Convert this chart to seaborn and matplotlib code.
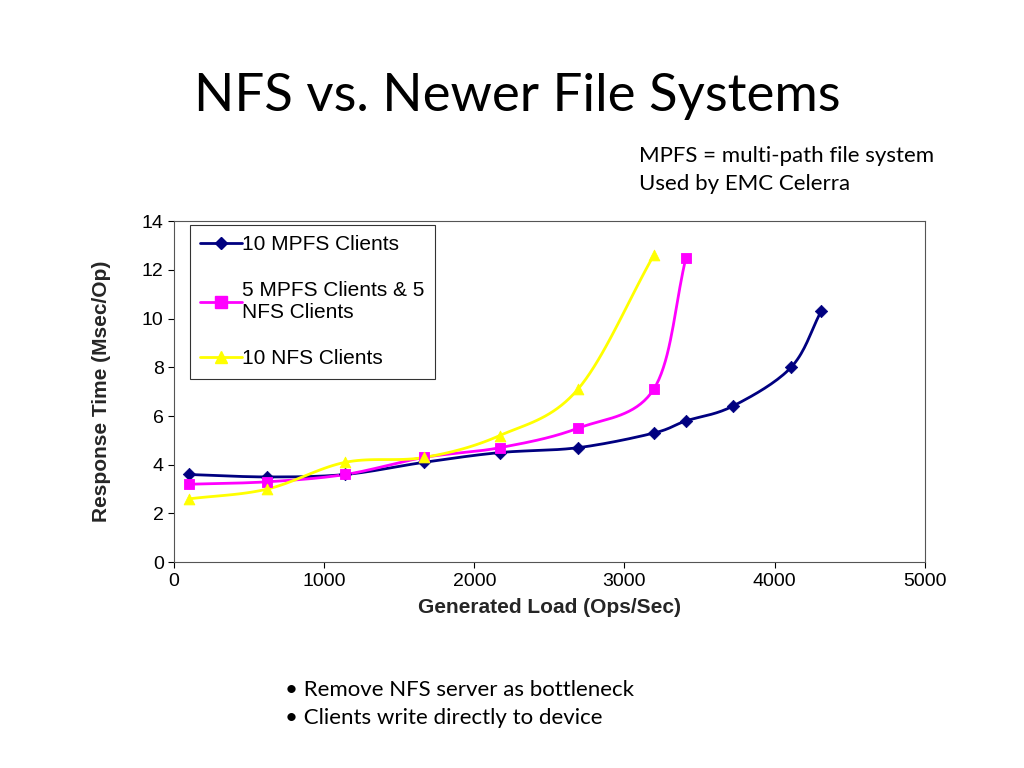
import numpy as np
import pandas as pd
import seaborn as sns
import matplotlib.pyplot as plt
from matplotlib.lines import Line2D

# data
mpfs10_x = [100, 620, 1140, 1665, 2170, 2690, 3195, 3410, 3720, 4110, 4310]
mpfs10_y = [3.6, 3.5, 3.6, 4.1, 4.5, 4.7, 5.3, 5.8, 6.4, 8.0, 10.3]
mixed_x = [100, 620, 1140, 1665, 2170, 2690, 3195, 3410]
mixed_y = [3.2, 3.3, 3.6, 4.3, 4.7, 5.5, 7.1, 12.5]
nfs10_x = [100, 620, 1140, 1665, 2170, 2690, 3195]
nfs10_y = [2.6, 3.0, 4.1, 4.3, 5.2, 7.1, 12.6]

labels = ["10 MPFS Clients", "5 MPFS Clients & 5\nNFS Clients", "10 NFS Clients"]
colors = ["#000080", "#FF00FF", "#FFFF00"]
markers = ["D", "s", "^"]


def smooth(x, y, n=20):
    # Catmull-Rom curve through the points (like Excel smoothed lines)
    x = np.asarray(x, float)
    y = np.asarray(y, float)
    px = np.concatenate([[2 * x[0] - x[1]], x, [2 * x[-1] - x[-2]]])
    py = np.concatenate([[2 * y[0] - y[1]], y, [2 * y[-1] - y[-2]]])
    t = np.linspace(0, 1, n)[:, None]
    xs, ys = [], []
    for i in range(1, len(px) - 2):
        for p, out in ((px, xs), (py, ys)):
            p0, p1, p2, p3 = p[i - 1], p[i], p[i + 1], p[i + 2]
            out.append(0.5 * (2 * p1 + (-p0 + p2) * t + (2 * p0 - 5 * p1 + 4 * p2 - p3) * t ** 2
                              + (-p0 + 3 * p1 - 3 * p2 + p3) * t ** 3).ravel())
    return np.concatenate(xs), np.concatenate(ys)


sns.set_style("white")
plt.rcParams["font.family"] = "Liberation Sans"
fig = plt.figure(figsize=(10.24, 7.68), dpi=100)
ax = fig.add_axes([0.17, 0.268, 0.733, 0.444])

series = [(mpfs10_x, mpfs10_y), (mixed_x, mixed_y), (nfs10_x, nfs10_y)]
handles = []
for (x, y), lab, c, m in zip(series, labels, colors, markers):
    sx, sy = smooth(x, y)
    ax.plot(sx, sy, color=c, lw=2, zorder=2)
    df = pd.DataFrame({"x": x, "y": y})
    sns.scatterplot(data=df, x="x", y="y", ax=ax, color=c, marker=m, s=60 if m != "D" else 40,
                    edgecolor=c, zorder=3, legend=False)
    handles.append(Line2D([], [], color=c, lw=2, marker=m, markersize=8 if m != "D" else 6))

ax.set_xlim(0, 5000)
ax.set_ylim(0, 14)
ax.set_xticks(range(0, 5001, 1000))
ax.set_yticks(range(0, 15, 2))
ax.tick_params(labelsize=14, length=4, direction="out", left=True, bottom=True, colors="black")
ax.set_xlabel("Generated Load (Ops/Sec)", fontsize=15, fontweight="bold", labelpad=6)
ax.set_ylabel("Response Time (Msec/Op)", fontsize=15, fontweight="bold", labelpad=22)
for s in ax.spines.values():
    s.set_color("#555555")

leg = ax.legend(handles, labels, loc="upper left", bbox_to_anchor=(0.021, 0.99), fontsize=15,
                frameon=True, fancybox=False, edgecolor="black", handlelength=2.0,
                handletextpad=0.0, labelspacing=1.3, borderpad=0.5, borderaxespad=0.0)
leg.get_frame().set_linewidth(0.8)
for t in leg.get_texts():
    t.set_color("black")

fig.text(0.505, 0.875, "NFS vs. Newer File Systems", ha="center", va="center", fontsize=38,
         family="Lato", color="black")
fig.text(0.624, 0.778, "MPFS = multi-path file system\nUsed by EMC Celerra", ha="left",
         va="center", fontsize=16, family="Lato", linespacing=1.5, color="black")
fig.text(0.278, 0.083, "• Remove NFS server as bottleneck\n• Clients write directly to device",
         ha="left", va="center", fontsize=16, family="Lato", linespacing=1.5, color="black")

fig.savefig("out.png", dpi=100)
